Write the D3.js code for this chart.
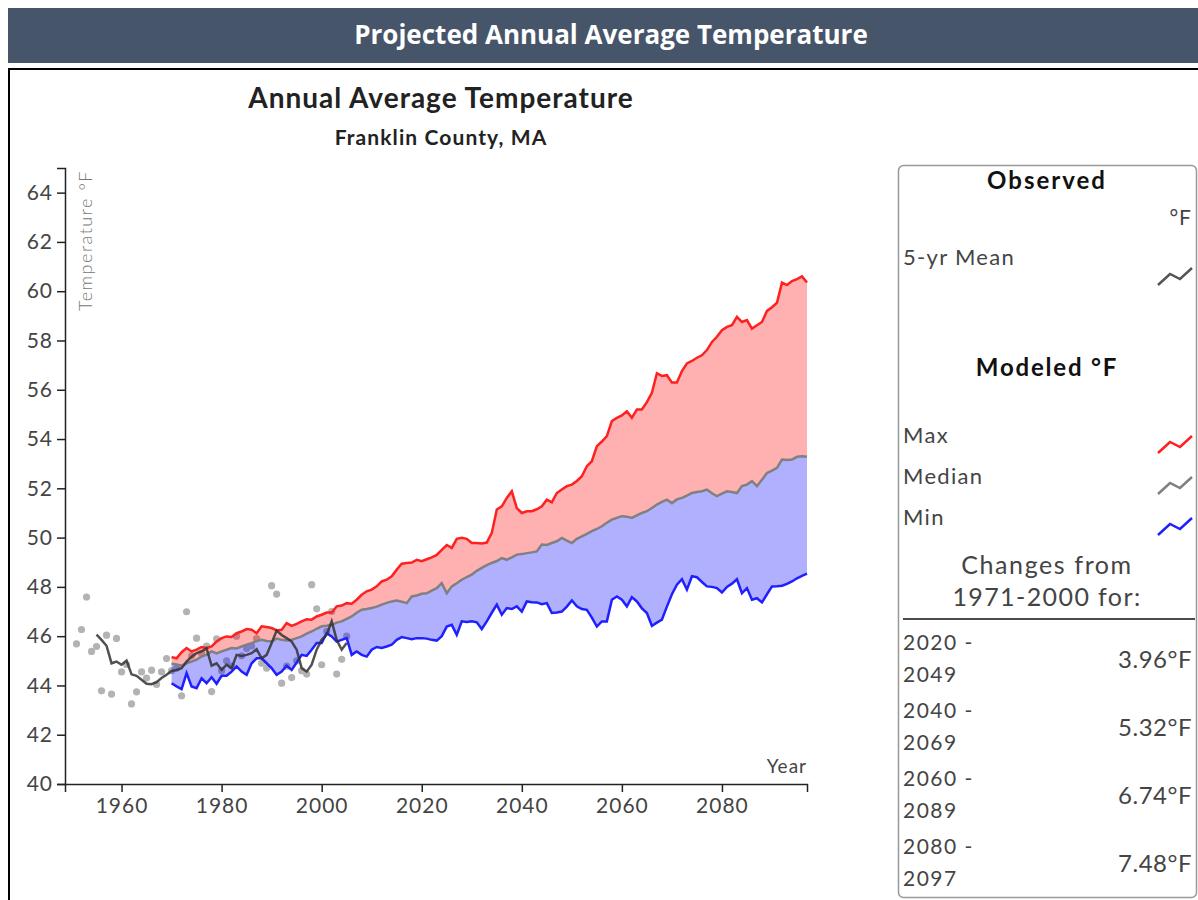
<!DOCTYPE html>
<html>
<head>
<meta charset="utf-8">
<script src="https://cdn.jsdelivr.net/npm/d3@7"></script>
<style>
  body { margin: 0; background: #fff; }
  svg text { font-family: Lato, "Noto Sans", sans-serif; }
</style>
</head>
<body>
<div id="chart"></div>
<script>
// --- Data ---
const OBS_START = 1951;
const observed = [
  45.69, 46.27, 47.59, 45.38, 45.58, 43.78, 46.04, 43.65, 45.91, 44.55, // 1951-1960
  44.85, 43.25, 43.74, 44.55, 44.30, 44.62, 44.04, 44.55, 45.09, 44.60, // 1961-1970
  44.70, 43.58, 46.99, 45.20, 45.92, 45.30, 45.60, 43.75, 45.89, 44.60, // 1971-1980
  45.00, 44.80, 46.00, 45.20, 45.50, 45.60, 45.90, 44.90, 44.70, 48.05, // 1981-1990
  47.71, 44.09, 44.78, 44.32, 45.00, 44.60, 44.46, 48.09, 47.11, 44.84, // 1991-2000
  46.20, 47.00, 44.46, 45.06, 46.00                                     // 2001-2005
];

const MEAN_START = 1955;
const observedMean = [
  46.06, 45.85, 45.61, 44.90, 44.97, 44.84, 45.01, 44.45, 44.39, 44.23, // 1955-1964
  44.07, 44.05, 44.13, 44.30, 44.43, 44.59, 44.63, 44.70, 44.97, 45.17, // 1965-1974
  45.31, 45.38, 45.50, 44.80, 44.90, 44.63, 44.84, 44.70, 45.24, 45.20, // 1975-1984
  45.24, 45.31, 45.47, 45.10, 45.24, 45.72, 46.23, 46.05, 45.92, 45.78, // 1985-1994
  45.45, 44.70, 44.56, 44.84, 45.45, 45.85, 46.06, 46.60, 45.85, 45.45, // 1995-2004
  45.72                                                                 // 2005
];

const MODEL_START = 1970;
const modelMax = [
  45.15, 45.10, 45.35, 45.52, 45.38, 45.45, 45.56, 45.52, 45.58, 45.78, // 1970
  45.92, 45.99, 45.97, 46.12, 46.19, 46.29, 46.26, 46.12, 46.40, 46.37, // 1980
  46.33, 46.23, 46.26, 46.53, 46.42, 46.50, 46.60, 46.69, 46.67, 46.80, // 1990
  46.87, 46.96, 46.96, 47.21, 47.24, 47.34, 47.32, 47.48, 47.68, 47.82, // 2000
  47.89, 48.02, 48.22, 48.29, 48.43, 48.70, 48.94, 48.97, 48.99, 49.10, // 2010
  49.04, 49.12, 49.20, 49.30, 49.50, 49.70, 49.58, 49.95, 49.99, 49.95, // 2020
  49.78, 49.78, 49.76, 49.80, 50.19, 51.14, 51.27, 51.61, 51.88, 51.20, // 2030
  51.00, 51.07, 51.07, 51.15, 51.27, 51.54, 51.43, 51.81, 51.95, 52.09, // 2040
  52.15, 52.30, 52.49, 52.90, 53.10, 53.71, 53.90, 54.12, 54.73, 54.86, // 2050
  54.96, 55.13, 54.86, 55.20, 55.20, 55.50, 55.88, 56.67, 56.56, 56.59, // 2060
  56.29, 56.29, 56.76, 57.07, 57.17, 57.30, 57.40, 57.61, 57.94, 58.15, // 2070
  58.42, 58.55, 58.62, 58.96, 58.75, 58.83, 58.48, 58.62, 58.75, 59.20, // 2080
  59.35, 59.53, 60.35, 60.25, 60.41, 60.49, 60.60, 60.35                // 2090-2097
];
const modelMedian = [
  44.88, 44.85, 44.80, 44.90, 44.97, 45.05, 45.17, 45.25, 45.38, 45.30, // 1970
  45.38, 45.45, 45.52, 45.50, 45.58, 45.65, 45.72, 45.80, 45.85, 45.80, // 1980
  45.78, 45.90, 45.85, 45.82, 45.85, 45.92, 45.99, 46.10, 46.19, 46.30, // 1990
  46.40, 46.42, 46.46, 46.55, 46.60, 46.70, 46.80, 46.95, 47.07, 47.10, // 2000
  47.14, 47.20, 47.28, 47.35, 47.41, 47.45, 47.40, 47.34, 47.61, 47.65, // 2010
  47.72, 47.74, 47.85, 47.95, 48.15, 47.74, 48.02, 48.15, 48.29, 48.40, // 2020
  48.50, 48.65, 48.77, 48.88, 48.97, 49.05, 49.17, 49.10, 49.20, 49.31, // 2030
  49.33, 49.37, 49.40, 49.44, 49.72, 49.70, 49.78, 49.85, 49.99, 49.88, // 2040
  49.78, 49.95, 50.05, 50.15, 50.26, 50.35, 50.46, 50.60, 50.73, 50.80, // 2050
  50.87, 50.85, 50.80, 50.90, 51.00, 51.07, 51.20, 51.34, 51.45, 51.54, // 2060
  51.40, 51.55, 51.61, 51.70, 51.81, 51.85, 51.88, 51.95, 51.80, 51.68, // 2070
  51.78, 51.88, 51.85, 51.81, 52.09, 52.15, 52.29, 52.09, 52.35, 52.62, // 2080
  52.72, 52.83, 53.17, 53.15, 53.17, 53.28, 53.30, 53.28                // 2090-2097
];
const modelMin = [
  44.09, 43.96, 43.85, 44.50, 43.96, 43.89, 44.29, 44.09, 44.33, 44.07, // 1970
  44.39, 44.39, 44.56, 44.77, 44.56, 44.43, 44.90, 45.10, 45.10, 44.90, // 1980
  44.70, 44.43, 44.56, 44.80, 44.63, 44.93, 45.24, 45.20, 45.45, 45.72, // 1990
  45.72, 46.12, 45.99, 45.78, 45.85, 45.92, 45.24, 45.38, 45.24, 45.17, // 2000
  45.45, 45.56, 45.52, 45.58, 45.65, 45.85, 45.96, 45.92, 45.88, 45.92, // 2010
  45.92, 45.90, 45.85, 45.82, 46.00, 46.39, 46.46, 46.05, 46.60, 46.58, // 2020
  46.60, 46.56, 46.29, 46.60, 46.95, 47.28, 46.87, 47.14, 47.10, 47.21, // 2030
  47.00, 47.41, 47.38, 47.37, 47.30, 47.34, 46.94, 46.96, 47.00, 47.20, // 2040
  47.45, 47.21, 47.10, 47.07, 46.75, 46.39, 46.60, 46.60, 47.48, 47.61, // 2050
  47.48, 47.21, 47.58, 47.41, 47.13, 46.94, 46.42, 46.55, 46.67, 47.20, // 2060
  47.70, 48.09, 48.31, 47.89, 48.43, 48.39, 48.20, 48.02, 48.00, 47.95, // 2070
  47.77, 48.00, 48.13, 48.31, 47.74, 47.95, 47.48, 47.54, 47.37, 47.70, // 2080
  48.02, 48.03, 48.05, 48.12, 48.22, 48.35, 48.45, 48.54                // 2090-2097
];

const yTicks = [40, 42, 44, 46, 48, 50, 52, 54, 56, 58, 60, 62, 64];
const xTicks = [1960, 1980, 2000, 2020, 2040, 2060, 2080];

const changePeriods = [["2020 -", "2049"], ["2040 -", "2069"], ["2060 -", "2089"], ["2080 -", "2097"]];
const changeValues = ["3.96°F", "5.32°F", "6.74°F", "7.48°F"];

// --- Build rows ---
const obsData = observed.map((v, i) => ({ year: OBS_START + i, value: v }));
const meanData = observedMean.map((v, i) => ({ year: MEAN_START + i, value: v }));
const modelData = modelMax.map((v, i) => ({
  year: MODEL_START + i,
  max: v,
  median: modelMedian[i],
  min: modelMin[i]
}));

// --- SVG ---
const width = 1198, height = 900;
const svg = d3.select("#chart").append("svg")
  .attr("width", width)
  .attr("height", height);

// header bar
svg.append("rect")
  .attr("x", 8).attr("y", 8)
  .attr("width", width - 8).attr("height", 55)
  .attr("fill", "#465569");
svg.append("text")
  .attr("x", 611).attr("y", 44)
  .attr("text-anchor", "middle")
  .attr("fill", "#fff")
  .style("font-family", "'Open Sans', sans-serif")
  .style("font-weight", 700)
  .style("font-size", "26px")
  .text("Projected Annual Average Temperature");

// panel border (top + left)
svg.append("path")
  .attr("d", `M9,${height} V69 H${width}`)
  .attr("fill", "none")
  .attr("stroke", "#000")
  .attr("stroke-width", 2);

// small helper: wider spacing to get closer to the original's typeface
function label(g, xPos, yPos, txt, size, opts = {}) {
  return g.append("text")
    .attr("x", xPos).attr("y", yPos)
    .attr("text-anchor", opts.anchor || "start")
    .attr("fill", opts.color || "#444")
    .style("font-size", size + "px")
    .style("font-weight", opts.weight || 400)
    .style("letter-spacing", (opts.spacing != null ? opts.spacing : 1) + "px")
    .text(txt);
}

// titles
label(svg, 441, 108, "Annual Average Temperature", 28, { anchor: "middle", color: "#222", weight: 700, spacing: 1 });
label(svg, 441, 145, "Franklin County, MA", 21, { anchor: "middle", color: "#222", weight: 700, spacing: 1.1 });

// --- scales ---
const x = d3.scaleLinear().domain([1948.7, 2097]).range([65, 807]);
const y = d3.scaleLinear().domain([40, 65]).range([784, 168]);

// observed points (under the bands)
svg.append("g")
  .selectAll("circle")
  .data(obsData)
  .join("circle")
  .attr("cx", d => x(d.year))
  .attr("cy", d => y(d.value))
  .attr("r", 3.6)
  .attr("fill", "#b3b3b3");

// bands
const upperArea = d3.area()
  .x(d => x(d.year))
  .y0(d => y(d.median))
  .y1(d => y(d.max));
const lowerArea = d3.area()
  .x(d => x(d.year))
  .y0(d => y(d.min))
  .y1(d => y(d.median));

svg.append("path").datum(modelData)
  .attr("d", upperArea)
  .attr("fill", "#ff0000").attr("fill-opacity", 0.31);
svg.append("path").datum(modelData)
  .attr("d", lowerArea)
  .attr("fill", "#0000ff").attr("fill-opacity", 0.31);

const lineOf = key => d3.line().x(d => x(d.year)).y(d => y(d[key]));

svg.append("path").datum(modelData)
  .attr("d", lineOf("median"))
  .attr("fill", "none").attr("stroke", "#808080").attr("stroke-width", 2.5);
svg.append("path").datum(modelData)
  .attr("d", lineOf("max"))
  .attr("fill", "none").attr("stroke", "#ff2020").attr("stroke-width", 2.5);
svg.append("path").datum(modelData)
  .attr("d", lineOf("min"))
  .attr("fill", "none").attr("stroke", "#2020ff").attr("stroke-width", 2.5);

// observed 5-yr mean
svg.append("path").datum(meanData)
  .attr("d", lineOf("value"))
  .attr("fill", "none")
  .attr("stroke", "#333")
  .attr("stroke-opacity", 0.85)
  .attr("stroke-width", 2.5);

// --- axes ---
const yAxis = svg.append("g")
  .attr("transform", `translate(${x.range()[0]},0)`)
  .call(d3.axisLeft(y).tickValues(yTicks).tickSize(8).tickPadding(4));
const xAxis = svg.append("g")
  .attr("transform", `translate(0,${y.range()[0]})`)
  .call(d3.axisBottom(x).tickValues(xTicks).tickFormat(d3.format("d")).tickSize(8).tickPadding(6));

[yAxis, xAxis].forEach(g => {
  g.select(".domain").attr("stroke", "#222").attr("stroke-width", 1.5);
  g.selectAll(".tick line").attr("stroke", "#222").attr("stroke-width", 1.5);
  g.selectAll(".tick text")
    .attr("fill", "#444")
    .style("font-family", "Lato, sans-serif")
    .style("font-size", "21px")
    .style("letter-spacing", "1px");
});

svg.append("text")
  .attr("transform", "translate(92,170) rotate(-90)")
  .attr("text-anchor", "end")
  .attr("fill", "#777")
  .style("font-size", "18px")
  .style("font-weight", 300)
  .style("letter-spacing", "1.5px")
  .text("Temperature °F");

label(svg, 807, 773, "Year", 19, { anchor: "end", spacing: 1 });

// --- legend panel ---
const lg = svg.append("g");
lg.append("rect")
  .attr("x", 898.5).attr("y", 165.5)
  .attr("width", 298).attr("height", 732)
  .attr("rx", 5)
  .attr("fill", "none").attr("stroke", "#999").attr("stroke-width", 1.5);

const centerX = 1047;
label(lg, centerX, 189, "Observed", 24, { anchor: "middle", color: "#111", weight: 700, spacing: 2 });
label(lg, 1192, 225, "°F", 21, { anchor: "end" });
label(lg, 903, 265, "5-yr Mean", 22, { spacing: 1.3 });
label(lg, centerX, 376, "Modeled °F", 24, { anchor: "middle", color: "#111", weight: 700, spacing: 1.8 });

const icon = "M1158,285 L1170,274 L1180,279 L1192,268";
const legendItems = [
  { label: "5-yr Mean", color: "#555", dy: 0 },
  { label: "Max", color: "#ff2020", dy: 168 },
  { label: "Median", color: "#808080", dy: 209 },
  { label: "Min", color: "#2020ff", dy: 250 }
];
legendItems.forEach((item, i) => {
  if (i > 0) {
    label(lg, 903, 443 + (i - 1) * 41, item.label, 22, { spacing: 1.3 });
  }
  lg.append("path")
    .attr("d", icon)
    .attr("transform", `translate(0,${item.dy})`)
    .attr("fill", "none")
    .attr("stroke", item.color)
    .attr("stroke-width", 2.5);
});

label(lg, centerX, 574, "Changes from", 25, { anchor: "middle", spacing: 1.6 });
label(lg, centerX, 606, "1971-2000 for:", 25, { anchor: "middle", spacing: 1.4 });
lg.append("line")
  .attr("x1", 903).attr("x2", 1195)
  .attr("y1", 619).attr("y2", 619)
  .attr("stroke", "#111").attr("stroke-width", 1.5);

changePeriods.forEach((p, i) => {
  const top = 650 + i * 68;
  label(lg, 903, top, p[0], 21, { spacing: 1.5 });
  label(lg, 903, top + 32, p[1], 21, { spacing: 1.5 });
  label(lg, 1192, top + 18, changeValues[i], 24, { anchor: "end", spacing: 0.5 });
});
</script>
</body>
</html>
